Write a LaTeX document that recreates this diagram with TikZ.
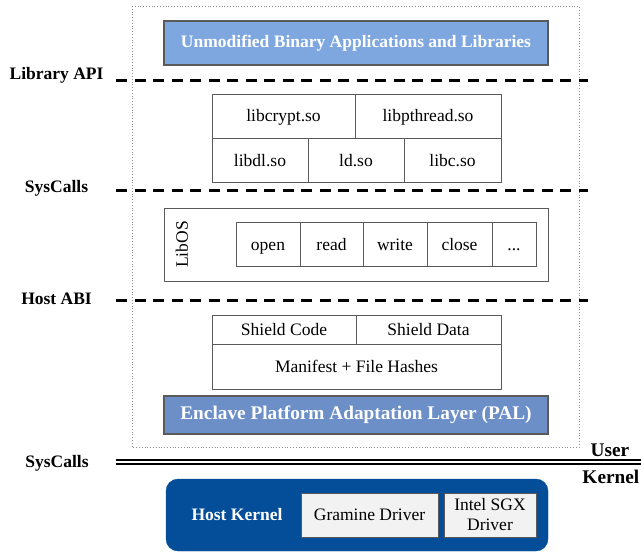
\documentclass[tikz,border=0pt]{standalone}
\usepackage{fontspec}
\setmainfont{Liberation Serif}
\definecolor{appblue}{RGB}{126,167,224}
\definecolor{palblue}{RGB}{108,143,200}
\definecolor{kernblue}{RGB}{4,77,153}
\definecolor{drvgray}{RGB}{242,242,242}
\definecolor{edge}{RGB}{90,90,90}
\newcommand\regtext{\fontsize{17.5}{21}\selectfont}
\newcommand\boldtext{\fontsize{17.5}{21}\selectfont\bfseries}
\newcommand\bigbold{\fontsize{19.3}{23}\selectfont\bfseries}
\tikzset{
  box/.style={draw=edge, line width=0.9pt, fill=white, inner sep=0pt, font=\regtext, align=center},
  cell/.style={box, text height=13.5pt, text depth=2pt},
  drv/.style={box, fill=drvgray},
  bluebox/.style={draw=edge, line width=1.3pt, inner sep=0pt, text=white},
  layerlbl/.style={font=\boldtext, inner sep=0pt},
  sideword/.style={font=\bigbold, inner sep=0pt},
  sepline/.style={line width=3pt, dash pattern=on 11pt off 7.5pt},
  enclave/.style={draw=black!45, line width=0.8pt, dotted},
}
\begin{document}
\begin{tikzpicture}[x=1pt,y=-1pt]
\useasboundingbox (0,0) rectangle (641,552);

% enclave boundary
\draw[enclave] (132,6) rectangle (579,447);

% application layer
\node[bluebox, fill=appblue, font=\boldtext, minimum width=384pt, minimum height=44pt] (app) at (356,43) {Unmodified Binary Applications and Libraries};

% library layer
\node[cell, minimum width=143pt, minimum height=44pt] (libcrypt) at (283.5,116) {libcrypt.so};
\node[cell, minimum width=146pt, minimum height=44pt] (libpthread) at (428,116) {libpthread.so};
\node[cell, minimum width=96pt, minimum height=44pt] (libdl) at (260,160.5) {libdl.so};
\node[cell, minimum width=96pt, minimum height=44pt] (ld) at (356,160.5) {ld.so};
\node[cell, minimum width=97pt, minimum height=44pt] (libc) at (452.5,160.5) {libc.so};

% LibOS
\node[box, minimum width=384pt, minimum height=73pt] (libos) at (356,244.5) {};
\node[font=\regtext, rotate=90, inner sep=0pt] (libosname) at (182,244.5) {LibOS};
\node[cell, minimum width=64pt, minimum height=44pt] (open) at (268,244.5) {open};
\node[cell, minimum width=63pt, minimum height=44pt] (read) at (331.5,244.5) {read};
\node[cell, minimum width=64pt, minimum height=44pt] (write) at (395,244.5) {write};
\node[cell, minimum width=65pt, minimum height=44pt] (close) at (459.5,244.5) {close};
\node[cell, minimum width=44pt, minimum height=44pt] (more) at (514,244.5) {...};

% shield and PAL
\node[cell, minimum width=144pt, minimum height=28.5pt] (scode) at (284,329.75) {Shield Code};
\node[cell, minimum width=145pt, minimum height=28.5pt] (sdata) at (428.5,329.75) {Shield Data};
\node[cell, minimum width=289pt, minimum height=45pt] (manifest) at (356.5,366.5) {Manifest + File Hashes};
\node[bluebox, fill=palblue, font=\bigbold, minimum width=384pt, minimum height=38pt] (pal) at (356,415) {Enclave Platform Adaptation Layer (PAL)};

% interface lines
\node[layerlbl] (libapi) at (56.5,75) {Library API};
\node[layerlbl] (sys1) at (56.5,188) {SysCalls};
\node[layerlbl] (hostabi) at (56.5,299) {Host ABI};
\node[layerlbl] (sys2) at (57,463) {SysCalls};
\coordinate (a1) at (116,80);  \coordinate (a2) at (588,80);
\coordinate (b1) at (116,190); \coordinate (b2) at (588,190);
\coordinate (c1) at (116,300); \coordinate (c2) at (588,300);
\draw[sepline] (a1) -- (a2);
\draw[sepline] (b1) -- (b2);
\draw[sepline] (c1) -- (c2);

% user / kernel boundary
\coordinate (u1) at (116,460);   \coordinate (u2) at (641,460);
\coordinate (k1) at (116,464);   \coordinate (k2) at (641,464);
\draw[line width=1.4pt] (u1) -- (u2);
\draw[line width=1.4pt] (k1) -- (k2);
\node[sideword] (user) at (610,450) {User};
\node[sideword, anchor=east] (kernel) at (639.5,477) {Kernel};

% host kernel
\node[draw=kernblue, fill=kernblue, rounded corners=12pt, minimum width=382pt, minimum height=72pt, inner sep=0pt] (host) at (357,515) {};
\node[font=\boldtext, text=white, inner sep=0pt] (hostname) at (237,515) {Host Kernel};
\node[drv, minimum width=137pt, minimum height=44pt, text height=13.5pt, text depth=2pt] (gramine) at (369.5,515) {Gramine Driver};
\node[drv, minimum width=92pt, minimum height=44pt] (sgx) at (490,515) {Intel SGX\\[-1pt]Driver};
\end{tikzpicture}
\end{document}
